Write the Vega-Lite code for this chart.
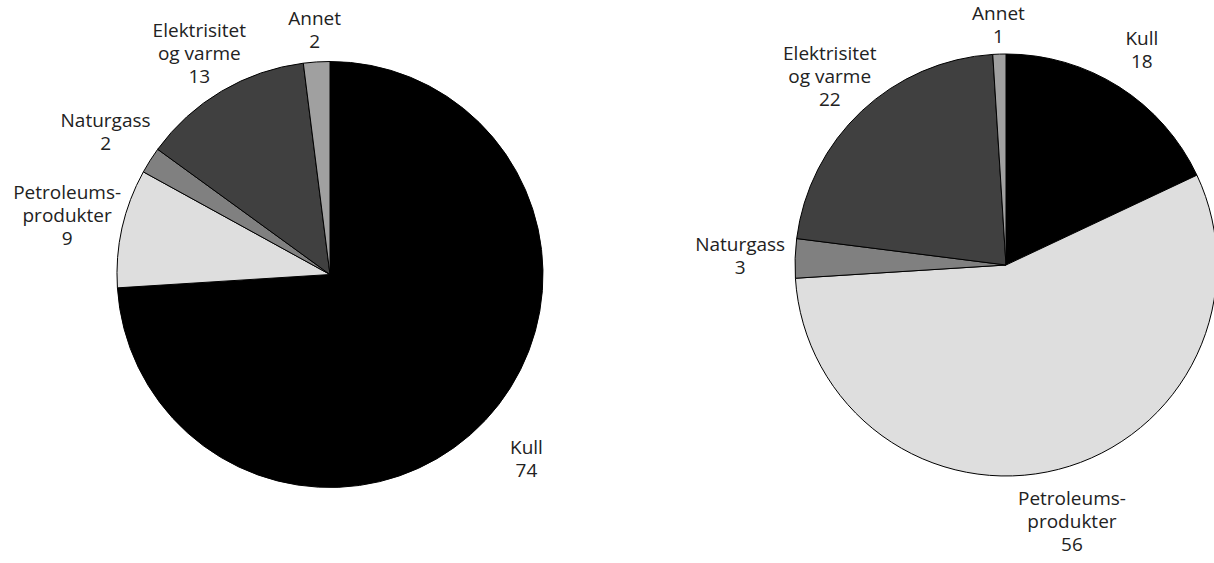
{
  "$schema": "https://vega.github.io/schema/vega-lite/v6.json",
  "padding": {"left": 0, "top": 0, "right": 0, "bottom": 14},
  "background": "white",
  "bounds": "flush",
  "config": {
    "view": {"stroke": null},
    "text": {"font": "Open Sans", "fontSize": 19, "lineHeight": 23, "color": "#222222"}
  },
  "spacing": 138,
  "hconcat": [
    {
      "width": 660,
      "height": 549,
      "data": {
        "values": [
          {"kategori": "Kull", "andel": 74, "rekke": 1, "etikett": "Kull\n74"},
          {"kategori": "Petroleumsprodukter", "andel": 9, "rekke": 2, "etikett": "Petroleums-\nprodukter\n9"},
          {"kategori": "Naturgass", "andel": 2, "rekke": 3, "etikett": "Naturgass\n2"},
          {"kategori": "Elektrisitet og varme", "andel": 13, "rekke": 4, "etikett": "Elektrisitet\nog varme\n13"},
          {"kategori": "Annet", "andel": 2, "rekke": 5, "etikett": "Annet\n2"}
        ]
      },
      "encoding": {
        "theta": {"field": "andel", "type": "quantitative", "stack": true},
        "order": {"field": "rekke", "type": "quantitative"}
      },
      "layer": [
        {
          "mark": {"type": "arc", "outerRadius": 213, "stroke": "#000000", "strokeWidth": 1},
          "encoding": {
            "color": {
              "field": "kategori",
              "type": "nominal",
              "scale": {
                "domain": ["Kull", "Petroleumsprodukter", "Naturgass", "Elektrisitet og varme", "Annet"],
                "range": ["#000000", "#dedede", "#808080", "#404040", "#a0a0a0"]
              },
              "legend": null
            }
          }
        },
        {
          "mark": {
            "type": "text",
            "radius": {"expr": "243 + 27*abs(sin(PI*(datum.andel_start + datum.andel_end)/100)) + 10*(length(split(datum.etikett, '\\n')) - 1)*max(0, -cos(PI*(datum.andel_start + datum.andel_end)/100))"},
            "dy": {"expr": "-11.5*(length(split(datum.etikett, '\\n')) - 1)"},
            "lineBreak": "\n",
            "align": "center",
            "baseline": "middle"
          },
          "encoding": {"text": {"field": "etikett", "type": "nominal"}}
        }
      ]
    },
    {
      "width": 416,
      "height": 530,
      "data": {
        "values": [
          {"kategori": "Kull", "andel": 18, "rekke": 1, "etikett": "Kull\n18"},
          {"kategori": "Petroleumsprodukter", "andel": 56, "rekke": 2, "etikett": "Petroleums-\nprodukter\n56"},
          {"kategori": "Naturgass", "andel": 3, "rekke": 3, "etikett": "Naturgass\n3"},
          {"kategori": "Elektrisitet og varme", "andel": 22, "rekke": 4, "etikett": "Elektrisitet\nog varme\n22"},
          {"kategori": "Annet", "andel": 1, "rekke": 5, "etikett": "Annet\n1"}
        ]
      },
      "encoding": {
        "theta": {"field": "andel", "type": "quantitative", "stack": true},
        "order": {"field": "rekke", "type": "quantitative"}
      },
      "layer": [
        {
          "mark": {"type": "arc", "outerRadius": 211, "stroke": "#000000", "strokeWidth": 1},
          "encoding": {
            "color": {
              "field": "kategori",
              "type": "nominal",
              "scale": {
                "domain": ["Kull", "Petroleumsprodukter", "Naturgass", "Elektrisitet og varme", "Annet"],
                "range": ["#000000", "#dedede", "#808080", "#404040", "#a0a0a0"]
              },
              "legend": null
            }
          }
        },
        {
          "mark": {
            "type": "text",
            "radius": {"expr": "239 + 27*abs(sin(PI*(datum.andel_start + datum.andel_end)/100)) + 10*(length(split(datum.etikett, '\\n')) - 1)*max(0, -cos(PI*(datum.andel_start + datum.andel_end)/100))"},
            "dy": {"expr": "-11.5*(length(split(datum.etikett, '\\n')) - 1)"},
            "lineBreak": "\n",
            "align": "center",
            "baseline": "middle"
          },
          "encoding": {"text": {"field": "etikett", "type": "nominal"}}
        }
      ]
    }
  ]
}
